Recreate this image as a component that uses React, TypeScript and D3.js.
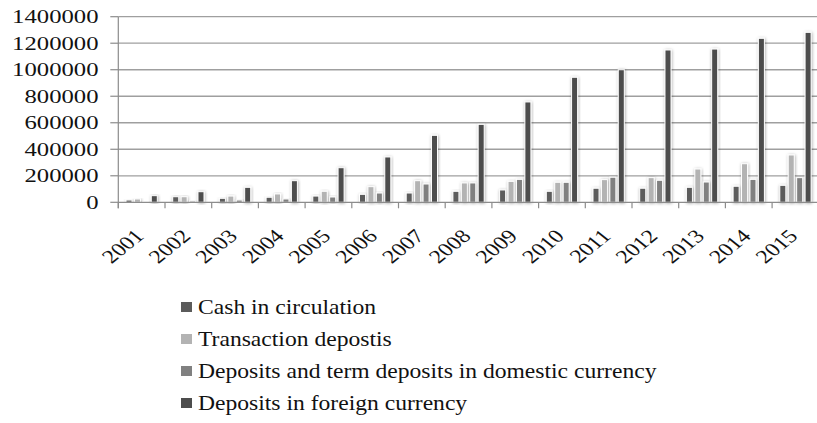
import React from "react";
import * as d3 from "d3";

const years = ["2001","2002","2003","2004","2005","2006","2007","2008","2009","2010","2011","2012","2013","2014","2015"];
const seriesNames = [
  "Cash in circulation",
  "Transaction depostis",
  "Deposits and term deposits in domestic currency",
  "Deposits in foreign currency",
];
const cash = [17000, 42000, 30000, 38000, 47000, 60000, 70000, 83000, 93000, 83000, 106000, 106000, 113000, 121000, 128000];
const transaction = [25000, 42000, 47000, 63000, 83000, 118000, 163000, 146000, 158000, 151000, 171000, 186000, 251000, 291000, 357000];
const domestic = [6000, 10000, 17000, 25000, 40000, 70000, 138000, 146000, 173000, 151000, 189000, 166000, 153000, 173000, 186000];
const foreign = [50000, 80000, 113000, 163000, 261000, 342000, 505000, 588000, 757000, 943000, 1000000, 1149000, 1156000, 1237000, 1282000];
const yTicks = [0, 200000, 400000, 600000, 800000, 1000000, 1200000, 1400000];
const colors = ["#5b5b5b", "#b3b3b3", "#808080", "#4d4d4d"];

const seriesValues = [cash, transaction, domestic, foreign];

export default function App() {
  const W = 817, H = 423;
  const left = 118.3, top = 16.7, bottom = 202.3;
  const band = 46.7;
  const x0 = d3.scaleBand<string>().domain(years).range([left, left + band * years.length]).paddingInner(0).paddingOuter(0);
  const x1 = d3.scaleBand<string>().domain(seriesNames).range([6.5, band - 6.5]).padding(0);
  const y = d3.scaleLinear().domain([0, 1400000]).range([bottom, top]);
  const bw = x1.bandwidth() - 2.4;
  const textStyle: React.CSSProperties = { fontFamily: '"Liberation Serif", "Times New Roman", Times, serif' };

  return (
    <svg width={W} height={H} style={{ position: "absolute", left: 0, top: 0, background: "#fff" }}>
      <defs>
        <filter id="glow" x="-50%" y="-20%" width="200%" height="140%">
          <feDropShadow dx="0.5" dy="0.5" stdDeviation="1.4" floodColor="#000" floodOpacity="0.35" />
        </filter>
      </defs>
      <rect width={W} height={H} fill="#fff" />
      {yTicks.filter(t => t > 0).map(t => (
        <line key={"g" + t} x1={left} x2={W} y1={y(t)} y2={y(t)} stroke="#9f9f9f" strokeWidth={1.3} />
      ))}
      <line x1={left} x2={left} y1={top} y2={bottom + 6} stroke="#8c8c8c" strokeWidth={1.2} />
      {yTicks.map(t => (
        <g key={"yt" + t}>
          <line x1={left - 8} x2={left} y1={y(t)} y2={y(t)} stroke="#8c8c8c" strokeWidth={1.2} />
          <text style={textStyle} transform={`translate(98.5,${y(t) + 6.5}) scale(1.3,1)`} textAnchor="end" fontSize={19} fill="#111">
            {t}
          </text>
        </g>
      ))}
      {years.map((yr, i) => (
        <g key={"b" + yr} transform={`translate(${x0(yr)},0)`}>
          {seriesNames.map((s, k) => {
            const v = seriesValues[k][i];
            const yy = y(v);
            return (
              <rect key={s} x={(x1(s) as number) + 1.2} y={yy} width={bw} height={bottom - yy}
                fill={colors[k]} stroke="#fff" strokeWidth={1} filter="url(#glow)" />
            );
          })}
        </g>
      ))}
      <line x1={left} x2={W} y1={bottom} y2={bottom} stroke="#8c8c8c" strokeWidth={1.2} />
      {years.map(yr => (
        <line key={"xt" + yr} x1={(x0(yr) as number)} x2={(x0(yr) as number)} y1={bottom} y2={bottom + 6} stroke="#8c8c8c" strokeWidth={1.2} />
      ))}
      {years.map(yr => (
        <text key={"xl" + yr} style={textStyle}
          transform={`translate(${(x0(yr) as number) + band / 2 + 3.5},${bottom + 35}) scale(1.25,1) rotate(-45)`}
          textAnchor="end" fontSize={19} fill="#111">
          {yr}
        </text>
      ))}
      {seriesNames.map((s, k) => {
        const cy = 307 + k * 32;
        return (
          <g key={"lg" + s}>
            <rect x={181} y={cy - 5} width={11} height={10} fill={colors[k]} />
            <text style={textStyle} transform={`translate(198,${cy + 6.5}) scale(1.18,1)`} fontSize={20} fill="#111">
              {s}
            </text>
          </g>
        );
      })}
    </svg>
  );
}
